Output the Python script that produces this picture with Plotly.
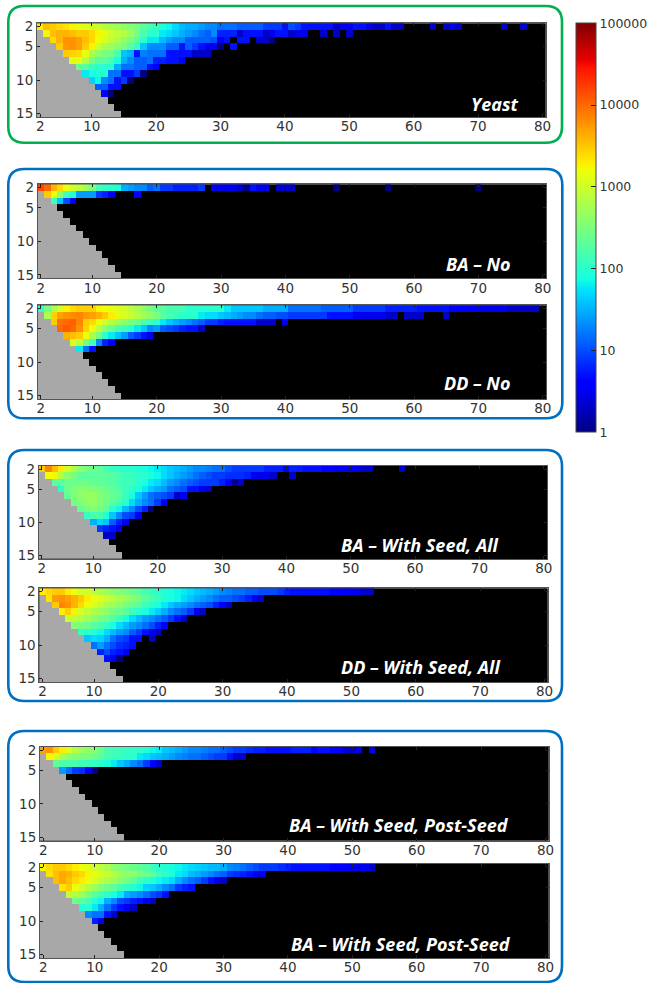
import math
import plotly.graph_objects as go

W, H = 649, 983
x_cols = list(range(2, 81))
y_rows = list(range(2, 16))
x_ticks = [2, 10, 20, 30, 40, 50, 60, 70, 80]
y_ticks = [2, 5, 10, 15]
cbar_vals = [0, 1, 2, 3, 4, 5]
cbar_text = ["1", "10", "100", "1000", "10000", "100000"]

# Each row below starts at the column equal to its row number; 0 = no count (black).
yeast = [
    [2000,3500,3000,2500,2200,1800,1400,1300,1000,900,700,600,500,400,350,300,200,150,120,90,70,50,35,30,30,25,20,20,15,15,15,12,12,12,12,8,8,8,5,10,8,5,5,5,5,5,2,3,3,5,5,3,2,2,5,2,2,0,0,0,0,2,0,2,3,2,0,0,0,0,0,0,2,0,0,2],
    [1800,3500,4000,4000,3500,3000,3000,2500,1800,1400,1000,800,700,500,300,150,100,100,60,50,40,30,25,20,15,12,20,6,6,6,2,5,5,5,2,3,5,5,2,3,3,0,0,2,0,2,0,2],
    [2500,4000,6000,6000,5000,3500,2500,1500,1200,800,600,400,300,200,100,60,60,35,25,20,20,12,12,12,12,10,3,5,0,5,5,0,2,2,1],
    [3000,5500,6000,5000,3000,1800,1000,600,500,400,300,200,120,40,20,20,20,12,12,5,12,8,5,3,3,1,0,5],
    [3000,2800,2500,1400,600,400,300,300,150,40,30,5,18,15,15,15,5,5,5,5,2,2,2],
    [1300,1400,700,300,200,200,150,80,30,20,12,12,15,6,6,5,5,4],
    [250,180,120,100,100,100,30,15,15,12,12,5,4],
    [60,80,90,90,15,15,5,5,8,1],
    [45,70,20,15,5,8,1],
    [12,12,5,5],
    [4,1],
]
ba_no = [
    [15000,10000,4000,2500,1500,1000,800,500,300,150,110,100,80,30,25,20,20,12,15,8,8,6,6,6,6,8,0,3,3,3,3,2,1,5,3,3,0,2,2,2,0,0,0,0,0,0,1,0,0,0,0,0,0,0,1,0,0,0,0,0,0,0,0,0,0,0,0,0,1],
    [3000,1500,400,150,90,25,25,25,8,6,3,0,0,0,4],
    [130,40,10,3],
]
dd_no = [
    [100,300,600,1200,1800,2500,2800,2800,2800,1800,1600,1400,1200,1000,800,600,400,300,200,200,150,150,150,100,100,100,100,100,100,60,40,40,40,40,40,30,30,30,30,15,15,15,15,15,12,12,12,12,12,8,8,8,8,8,6,6,6,6,6,5,5,5,5,5,4,4,4,4,4,3,3,3,3,2,2,2,2,2],
    [600,2800,5000,6000,6500,7000,5500,5000,4000,3000,2000,1300,1100,900,700,500,400,300,200,150,120,100,100,100,60,50,50,40,35,30,25,20,20,15,12,12,10,10,8,8,8,8,8,8,5,5,5,5,3,3,3,3,3,2,2,0,2,2,2,0,0,0,2],
    [3000,9000,10000,11000,7000,3000,2500,1500,1000,700,500,400,300,250,150,130,100,60,40,30,25,20,15,12,8,8,6,5,5,5,5,5,2,2,2,0,3],
    [10000,12000,10000,6000,2800,1500,800,400,250,150,130,100,60,40,20,25,12,10,8,6,5,5,2],
    [4000,3500,3000,1500,600,300,100,60,40,25,12,8,5,3],
    [1200,800,300,150,20,6,3],
    [60,15,5],
]
ba_seed_all = [
    [3000,7000,3500,2000,1100,600,400,300,250,200,150,120,110,100,100,90,80,70,60,50,40,35,30,25,20,20,18,15,15,10,8,8,8,8,8,6,6,6,4,6,6,5,5,5,4,4,3,3,3,3,2,2,0,0,0,0,2],
    [1600,1800,700,400,300,200,200,200,200,200,180,160,130,120,100,100,80,70,50,40,30,25,20,15,12,10,8,8,7,7,7,6,3,3,3,2,0,0,2],
    [200,200,250,250,250,250,230,200,200,180,150,130,130,100,80,60,50,35,25,20,15,12,10,8,8,8,6,4,1,2],
    [100,250,330,370,370,330,300,250,200,180,130,100,90,60,40,30,25,15,12,10,5,5,3,2],
    [220,330,400,450,450,330,300,230,200,120,80,40,25,15,12,10,8,2,3],
    [280,330,400,450,330,250,200,150,100,50,30,20,15,8,3],
    [220,280,330,280,200,100,70,35,20,10,6,1],
    [120,150,150,90,40,20,10,8,3],
    [30,50,40,12,6,3],
    [8,6,5,3],
    [2,2],
]
dd_seed_all = [
    [2000,2500,3000,3000,2000,1500,1100,1000,800,600,500,400,350,300,250,200,150,130,100,90,80,70,60,50,40,35,30,25,20,18,15,15,12,12,10,10,10,8,6,5,5,5,5,5,5,4,4,4,3,3,2,2],
    [2200,5500,6000,5000,4000,3000,2000,1500,1300,1000,800,600,500,400,300,200,150,120,90,80,70,50,40,30,25,20,15,12,12,10,8,6,3,2],
    [3000,7000,6000,4000,2500,1500,1200,800,600,500,400,300,250,200,130,100,80,60,40,30,25,20,15,12,10,6,4,2],
    [2000,2800,1800,1100,800,600,500,400,300,250,200,120,100,80,60,45,30,20,15,12,8,3,2],
    [900,800,700,500,400,300,250,180,130,80,50,35,25,20,15,12,8,5,2],
    [350,300,250,180,150,120,80,50,35,25,20,15,10,6,4],
    [120,100,90,70,50,35,25,20,12,8,5,3,2],
    [40,50,45,30,15,10,8,5,5,0,2],
    [15,25,15,10,7,6,5],
    [6,10,6,5,3],
    [5,3,1],
]
ba_post_a = [
    [5000,6000,3000,2000,1200,700,500,400,350,250,150,140,130,120,110,100,90,70,60,40,35,30,25,20,20,18,15,15,12,10,8,8,7,6,6,5,5,5,5,6,6,6,4,5,5,4,4,2,2,3,0,3],
    [1800,1200,600,400,350,300,300,250,200,150,130,120,100,100,60,50,40,35,30,25,20,18,15,15,12,10,8,8,5,2,2],
    [200,160,160,150,130,120,110,100,80,60,40,30,20,15,8,4,2],
    [25,15,8,7,3,1],
]
ba_post_b = [
    [1800,2500,3000,3000,2500,2000,1500,1300,1000,800,600,400,350,300,250,200,180,130,100,90,80,70,60,50,45,40,35,35,30,20,18,15,12,10,8,8,8,7,6,5,5,5,5,5,5,4,4,4,3,3,3,2],
    [2200,3500,4500,4000,3000,2500,1800,1400,1200,900,700,500,400,400,300,250,200,130,100,80,60,50,35,30,25,20,15,12,8,7,6,5,3,3],
    [3500,4500,3500,2500,2000,1500,1200,800,600,500,350,300,200,130,100,90,70,60,50,30,20,15,12,8,5,3,2],
    [2200,3000,1500,1000,700,500,350,250,200,150,110,90,70,45,40,30,20,15,8,6,5],
    [800,700,500,300,200,150,100,80,60,30,25,20,15,10,8,5],
    [250,200,150,90,70,30,20,10,8,6,5,3,2],
    [90,100,60,30,15,8,5,3,2],
    [20,15,15,5,2],
    [6,3],
]
labels = ["Yeast", "BA – No", "DD – No", "BA – With Seed, All", "DD – With Seed, All",
          "BA – With Seed, Post-Seed", "BA – With Seed, Post-Seed"]
datasets = [yeast, ba_no, dd_no, ba_seed_all, dd_seed_all, ba_post_a, ba_post_b]

# layout: left, right, top, bottom (px), label right edge, label centre y
frames = [
    (37.0, 545.7, 23.3, 117.0, 520, 104),
    (37.7, 546.0, 184.3, 278.3, 513, 264),
    (37.7, 546.0, 305.3, 399.0, 512, 383),
    (38.7, 547.0, 465.7, 559.0, 501, 545),
    (39.3, 547.7, 588.3, 682.0, 502, 667),
    (40.0, 548.7, 746.7, 840.7, 511, 825),
    (40.0, 548.7, 864.0, 958.0, 513, 944),
]
boxes = [
    (8.3, 562, 6, 142.7, "#00b050"),
    (8.3, 562.3, 169, 418.3, "#0070c0"),
    (8.3, 562, 450, 701, "#0070c0"),
    (8.3, 562, 731, 982, "#0070c0"),
]

JET = []
_r = [(0, 0), (.35, 0), (.66, 1), (.89, 1), (1, .5)]
_g = [(0, 0), (.125, 0), (.375, 1), (.64, 1), (.91, 0), (1, 0)]
_b = [(0, .5), (.11, 1), (.34, 1), (.65, 0), (1, 0)]
def _lerp(pts, t):
    for (a, va), (b, vb) in zip(pts, pts[1:]):
        if a <= t <= b:
            return va + (vb - va) * (t - a) / (b - a)
    return pts[-1][1]
for t in sorted({p[0] for p in _r + _g + _b}):
    JET.append([t, "rgb(%d,%d,%d)" % tuple(round(255 * _lerp(c, t)) for c in (_r, _g, _b))])

def px(x): return x / W
def py(y): return 1 - y / H

def round_rect(l, r, t, b, rad=16):
    X, Y = px, py
    return (f"M {X(l+rad)} {Y(t)} L {X(r-rad)} {Y(t)} Q {X(r)} {Y(t)} {X(r)} {Y(t+rad)} "
            f"L {X(r)} {Y(b-rad)} Q {X(r)} {Y(b)} {X(r-rad)} {Y(b)} "
            f"L {X(l+rad)} {Y(b)} Q {X(l)} {Y(b)} {X(l)} {Y(b-rad)} "
            f"L {X(l)} {Y(t+rad)} Q {X(l)} {Y(t)} {X(l+rad)} {Y(t)} Z")

def to_grid(rows):
    grid = [[None] * len(x_cols) for _ in y_rows]
    for i, vals in enumerate(rows):
        row = y_rows[i]
        for j, v in enumerate(vals):
            if v > 0:
                grid[i][row + j - x_cols[0]] = math.log10(v)
    return grid

gray_mask = [[1 if c < r else None for c in x_cols] for r in y_rows]

fig = go.Figure()
layout = dict(
    width=W, height=H, autosize=False,
    margin=dict(l=0, r=0, t=0, b=0, pad=0, autoexpand=False),
    paper_bgcolor="white", plot_bgcolor="black",
    font=dict(family="DejaVu Sans", size=13.5, color="#333333"),
    showlegend=False,
    coloraxis=dict(
        cmin=0, cmax=5, colorscale=JET,
        colorbar=dict(
            x=px(575.7), xanchor="left", y=py(23.3), yanchor="top",
            len=408.7 / H, lenmode="fraction", thickness=20, thicknessmode="pixels",
            xpad=0, ypad=0, outlinewidth=1, outlinecolor="#444444",
            tickmode="array", tickvals=cbar_vals, ticktext=cbar_text,
            ticks="inside", ticklen=5, tickcolor="#222222", tickwidth=1,
            tickfont=dict(family="DejaVu Sans", size=12.5, color="#333333"),
        ),
    ),
)
shapes, annotations = [], []
for l, r, t, b, col in boxes:
    shapes.append(dict(type="path", path=round_rect(l, r, t, b), xref="paper", yref="paper",
                       line=dict(color=col, width=2.6), fillcolor="rgba(0,0,0,0)", layer="below"))

for i, (rows, label, fr) in enumerate(zip(datasets, labels, frames)):
    l, r, t, b, lab_r, lab_y = fr
    suffix = "" if i == 0 else str(i + 1)
    fig.add_trace(go.Heatmap(x=x_cols, y=y_rows, z=gray_mask, xaxis="x" + suffix, yaxis="y" + suffix,
                             zmin=0, zmax=1, colorscale=[[0, "#a8a8a8"], [1, "#a8a8a8"]],
                             showscale=False, hoverinfo="skip"))
    fig.add_trace(go.Heatmap(x=x_cols, y=y_rows, z=to_grid(rows), xaxis="x" + suffix, yaxis="y" + suffix,
                             coloraxis="coloraxis", hoverongaps=False))
    common = dict(showgrid=False, zeroline=False, showline=True, linecolor="#555555", linewidth=1,
                  mirror="ticks", ticks="inside", ticklen=3, tickwidth=1, tickcolor="#222222",
                  fixedrange=True, tickfont=dict(family="DejaVu Sans", size=13.5, color="#333333"),
                  tickmode="array")
    layout["xaxis" + suffix] = dict(common, domain=[px(l), px(r)], range=[1.5, 80.5], tickvals=x_ticks,
                                    anchor="y" + suffix, ticklabelstandoff=-3)
    layout["yaxis" + suffix] = dict(common, domain=[py(b), py(t)], range=[15.5, 1.5], tickvals=y_ticks,
                                    anchor="x" + suffix)
    annotations.append(dict(text=label, xref="paper", yref="paper", x=px(lab_r), y=py(lab_y),
                            xanchor="right", yanchor="middle", showarrow=False,
                            font=dict(family="Open Sans", size=18, color="white", weight="bold", style="italic")))

layout["shapes"] = shapes
layout["annotations"] = annotations
fig.update_layout(**layout)
fig.write_html("out.html", config={"displayModeBar": False},
               post_script="document.body.style.margin='0';document.body.style.padding='0';var p=document.body.firstElementChild;if(p){p.style.margin='0';}")
